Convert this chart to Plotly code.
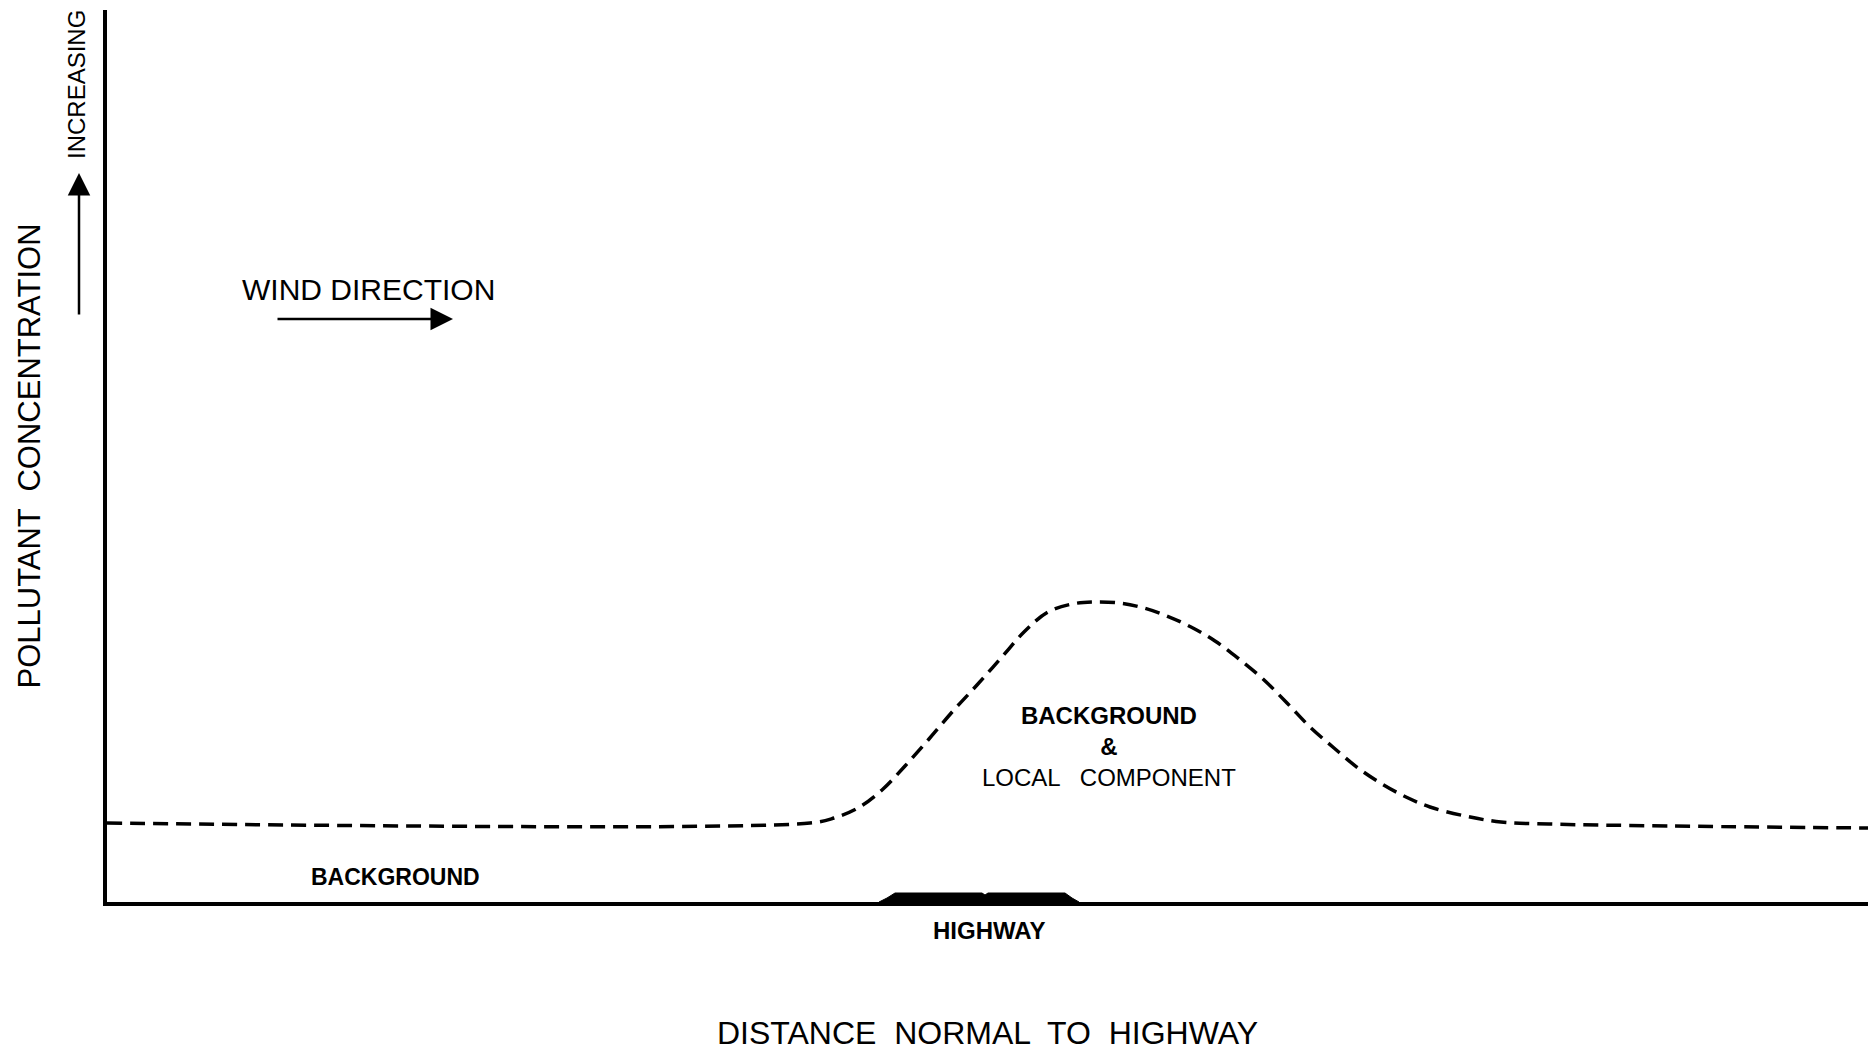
import plotly.graph_objects as go

# Concentration profile (arbitrary units) vs distance normal to highway (arbitrary units)
distance = [0, 703, 727, 751, 775, 798, 822, 846, 870, 894, 918, 941, 965, 987, 1013,
            1037, 1060, 1084, 1108, 1132, 1156, 1180, 1203, 1227, 1251, 1275, 1299,
            1323, 1358, 1394, 1442, 1561, 1761]
concentration = [79, 79, 84, 94, 112, 136, 163, 191, 217, 244, 271, 290, 298, 300, 299,
                 294, 286, 275, 261, 243, 223, 199, 175, 154, 134, 118, 105,
                 95, 86, 80, 78, 76, 74]

# Highway cross-section profile
highway_x = [772, 780, 788, 875, 878, 881, 958, 965, 972]
highway_y = [0, 4, 9, 9, 7, 9, 9, 4, 0]

X_MAX = 1761
Y_MAX = 892

FONT = "Liberation Sans, Arial, sans-serif"

fig = go.Figure()

fig.add_trace(go.Scatter(
    x=highway_x, y=highway_y, mode="lines", fill="toself",
    fillcolor="black", line=dict(color="black", width=1),
    hoverinfo="skip", showlegend=False))

fig.add_trace(go.Scatter(
    x=distance, y=concentration, mode="lines",
    line=dict(color="black", width=3.5, dash="15px,8px", shape="spline", smoothing=1),
    hoverinfo="skip", showlegend=False))

annotations = [
    dict(x=261, y=613, text="WIND DIRECTION", showarrow=False,
         xanchor="center", yanchor="middle",
         font=dict(size=30, family=FONT, color="black")),
    dict(x=346, y=583, ax=169, ay=583, axref="x", ayref="y", text="",
         showarrow=True, arrowhead=2, arrowsize=1.8, arrowwidth=2.5, arrowcolor="black"),
    # upward "increasing" arrow left of the axis
    dict(xref="paper", yref="paper", x=-28 / X_MAX, y=729 / Y_MAX, ax=0, ay=143,
         text="", showarrow=True, arrowhead=2, arrowsize=1.8, arrowwidth=2.5,
         arrowcolor="black"),
    dict(xref="paper", yref="paper", x=-30 / X_MAX, y=817 / Y_MAX, text="INCREASING",
         textangle=-90, showarrow=False, xanchor="center", yanchor="middle",
         font=dict(size=24, family=FONT, color="black")),
    dict(x=288, y=25, text="<b>BACKGROUND</b>", showarrow=False,
         xanchor="center", yanchor="middle",
         font=dict(size=23, family=FONT, color="black")),
    dict(x=1002, y=156, text="<b>BACKGROUND</b><br><b>&amp;</b><br>LOCAL   COMPONENT",
         showarrow=False, align="center", xanchor="center", yanchor="middle",
         font=dict(size=24, family=FONT, color="black")),
    dict(xref="x", yref="paper", x=882, y=-28 / Y_MAX, text="<b>HIGHWAY</b>",
         showarrow=False, xanchor="center", yanchor="middle",
         font=dict(size=24, family=FONT, color="black")),
]

fig.update_layout(
    width=1868, height=1051,
    margin=dict(l=107, r=0, t=10, b=149, autoexpand=False),
    paper_bgcolor="white", plot_bgcolor="white",
    showlegend=False, hovermode=False,
    annotations=annotations,
    xaxis=dict(range=[0, X_MAX], showline=True, linecolor="black", linewidth=3.5,
               showgrid=False, zeroline=False, showticklabels=False, ticks="",
               automargin=False,
               title=dict(text="DISTANCE  NORMAL  TO  HIGHWAY", standoff=119,
                          font=dict(size=32, family=FONT, color="black"))),
    yaxis=dict(range=[0, Y_MAX], showline=True, linecolor="black", linewidth=3.5,
               showgrid=False, zeroline=False, showticklabels=False, ticks="",
               automargin=False,
               title=dict(text="POLLUTANT  CONCENTRATION", standoff=54,
                          font=dict(size=31, family=FONT, color="black"))),
)

fig.write_html("out.html", config={"displayModeBar": False},
               post_script="document.body.style.margin='0';")
